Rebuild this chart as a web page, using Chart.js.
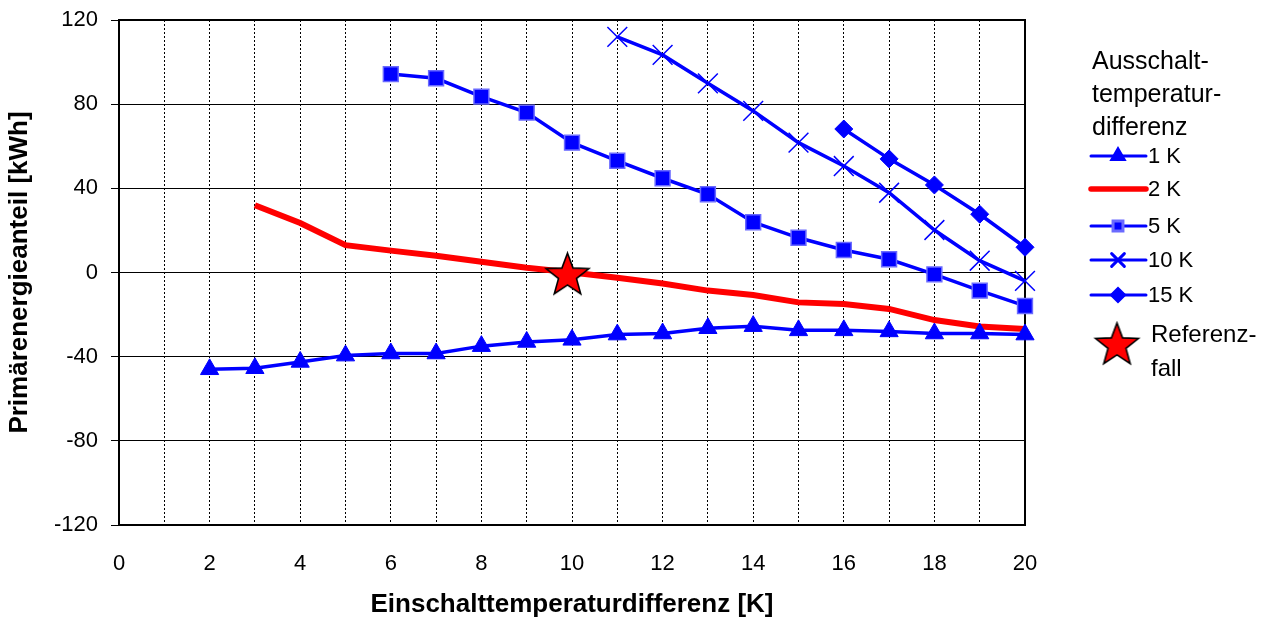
<!DOCTYPE html>
<html>
<head>
<meta charset="utf-8">
<script src="https://cdn.jsdelivr.net/npm/chart.js@4"></script>
<style>
  html, body { margin: 0; padding: 0; background: #fff; }
  canvas { display: block; }
</style>
</head>
<body>
<canvas id="chart" width="1265" height="619"></canvas>
<script>
////Data (x = Einschalttemperaturdifferenz [K], y = kWh)
const x1K = [2, 3, 4, 5, 6, 7, 8, 9, 10, 11, 12, 13, 14, 15, 16, 17, 18, 19, 20];
const y1K = [-46, -45.5, -42.5, -39.5, -38.5, -38.5, -35, -33, -32, -29.5, -29, -26.5, -25.5, -27.5, -27.5, -28, -29, -29, -29.5];

const x2K = [3, 4, 5, 6, 7, 8, 9, 10, 11, 12, 13, 14, 15, 16, 17, 18, 19, 20];
const y2K = [32, 23.5, 13, 10.4, 8, 5.1, 2.3, 0, -2.5, -5.2, -8.6, -10.7, -14.2, -15, -17.3, -22.6, -25.7, -26.9];

const x5K = [6, 7, 8, 9, 10, 11, 12, 13, 14, 15, 16, 17, 18, 19, 20];
const y5K = [94.3, 92.3, 83.6, 76, 61.7, 53.1, 44.8, 37.2, 23.9, 16.5, 10.7, 6.3, -0.9, -8.6, -15.9];

const x10K = [11, 12, 13, 14, 15, 16, 17, 18, 19, 20];
const y10K = [112, 103.4, 89.9, 76.8, 61.7, 50.6, 37.9, 20.2, 5.6, -4];

const x15K = [16, 17, 18, 19, 20];
const y15K = [68.2, 54, 41.6, 27.7, 12];

const xRef = [9.9];
const yRef = [-1.5];

const seriesLabels = ["1 K", "2 K", "5 K", "10 K", "15 K"];
const legendTitle = ["Ausschalt-", "temperatur-", "differenz"];
const refLabel = ["Referenz-", "fall"];

const BLUE = "#0000ff";
const RED = "#ff0000";
const FONT = "'Liberation Sans', Arial, sans-serif";

//turn two arrays into {x, y} points
function pts(xs, ys) {
    let out = [];
    for (let i = 0; i < xs.length; i++) {
        out.push({x: xs[i], y: ys[i]});
    }
    return out;
}

//filled red star with black outline, used as point style (centre of canvas = star centre)
function makeStar(r) {
    let c = document.createElement("canvas");
    let s = Math.ceil(r * 2 + 4);
    c.width = s; c.height = s;
    let g = c.getContext("2d");
    g.beginPath();
    for (let i = 0; i < 10; i++) {
        let rad = i % 2 === 0 ? r : r * 0.42;
        let a = -Math.PI / 2 + i * Math.PI / 5;
        let px = s / 2 + rad * Math.cos(a);
        let py = s / 2 + rad * Math.sin(a);
        if (i === 0) g.moveTo(px, py); else g.lineTo(px, py);
    }
    g.closePath();
    g.fillStyle = RED;
    g.fill();
    g.lineWidth = 1.6;
    g.strokeStyle = "#000";
    g.stroke();
    return c;
}
const starImg = makeStar(22.5);

Chart.defaults.font.family = FONT;
Chart.defaults.color = "#000";

//frame around the plot area
const framePlugin = {
    id: "frame",
    beforeDatasetsDraw(chart) {
        const {ctx, chartArea: a} = chart;
        ctx.save();
        ctx.strokeStyle = "#000";
        ctx.lineWidth = 2;
        ctx.strokeRect(a.left, a.top, a.right - a.left, a.bottom - a.top);
        ctx.restore();
    }
};

//legend on the right, drawn by hand
const legendPlugin = {
    id: "sideLegend",
    afterDraw(chart) {
        const ctx = chart.ctx;
        ctx.save();
        ctx.fillStyle = "#000";
        ctx.textBaseline = "middle";
        ctx.textAlign = "left";
        ctx.font = "25px " + FONT;
        const titleY = [62, 95, 128];
        legendTitle.forEach((t, i) => ctx.fillText(t, 1092, titleY[i]));

        ctx.font = "22px " + FONT;
        const itemY = [156, 189, 226, 260, 295];
        const markR = [7, 0, 7, 9, 6.5];
        const sets = chart.data.datasets.slice(0, 5);
        sets.forEach((ds, i) => {
            let y = itemY[i];
            ctx.strokeStyle = ds.borderColor;
            ctx.lineWidth = ds.borderWidth - 0.5;
            ctx.lineCap = "round";
            ctx.beginPath();
            ctx.moveTo(1091, y);
            ctx.lineTo(1146, y);
            ctx.stroke();
            if (ds.pointStyle && markR[i] > 0) {
                ctx.fillStyle = ds.pointBackgroundColor;
                ctx.strokeStyle = ds.pointBorderColor;
                Chart.helpers.drawPoint(ctx, {
                    pointStyle: ds.pointStyle,
                    radius: markR[i],
                    borderWidth: ds.pointBorderWidth,
                    rotation: 0
                }, 1118, y);
            }
            ctx.fillStyle = "#000";
            ctx.fillText(seriesLabels[i], 1148, y + 1);
        });

        ctx.drawImage(starImg, 1117 - starImg.width / 2, 345.5 - starImg.height / 2);
        ctx.font = "24px " + FONT;
        ctx.fillText(refLabel[0], 1151, 335);
        ctx.fillText(refLabel[1], 1151, 369);
        ctx.restore();
    }
};

const ctx = document.getElementById("chart").getContext("2d");
const chart = new Chart(ctx, {
    type: "line",
    data: {
        datasets: [
            {
                label: seriesLabels[0],
                data: pts(x1K, y1K),
                borderColor: BLUE, borderWidth: 3.5,
                pointStyle: "triangle", pointRadius: 10.5,
                pointBackgroundColor: BLUE, pointBorderColor: BLUE, pointBorderWidth: 1,
                order: 1
            },
            {
                label: seriesLabels[1],
                data: pts(x2K, y2K),
                borderColor: RED, borderWidth: 6,
                pointStyle: false, pointRadius: 0,
                order: 2
            },
            {
                label: seriesLabels[2],
                data: pts(x5K, y5K),
                borderColor: BLUE, borderWidth: 3.5,
                pointStyle: "rect", pointRadius: 10.5,
                pointBackgroundColor: BLUE, pointBorderColor: "#6a6aff", pointBorderWidth: 1.5,
                order: 3
            },
            {
                label: seriesLabels[3],
                data: pts(x10K, y10K),
                borderColor: BLUE, borderWidth: 3.5,
                pointStyle: "crossRot", pointRadius: 14,
                pointBackgroundColor: BLUE, pointBorderColor: BLUE, pointBorderWidth: 1.5,
                order: 4
            },
            {
                label: seriesLabels[4],
                data: pts(x15K, y15K),
                borderColor: BLUE, borderWidth: 3.5,
                pointStyle: "rectRot", pointRadius: 9,
                pointBackgroundColor: BLUE, pointBorderColor: BLUE, pointBorderWidth: 1,
                order: 5
            },
            {
                label: "Referenzfall",
                data: pts(xRef, yRef),
                showLine: false,
                pointStyle: starImg,
                order: 0
            }
        ]
    },
    options: {
        responsive: false,
        animation: false,
        clip: false,
        layout: {padding: {top: 20, right: 240, left: 0, bottom: 0}},
        plugins: {
            legend: {display: false},
            tooltip: {enabled: false}
        },
        elements: {line: {tension: 0}},
        scales: {
            x: {
                type: "linear",
                min: 0, max: 20,
                afterFit(scale) { scale.height = 94; },
                ticks: {
                    stepSize: 1,
                    autoSkip: false,
                    maxRotation: 0,
                    padding: 26,
                    font: {size: 22},
                    callback: (v) => (v % 2 === 0 ? String(v) : "")
                },
                grid: {color: "#000", lineWidth: 1, drawTicks: false},
                border: {color: "#000", width: 2, dash: [2, 2]},
                title: {
                    display: true,
                    text: "Einschalttemperaturdifferenz [K]",
                    font: {size: 26, weight: "bold", lineHeight: 1},
                    padding: {top: 0, bottom: 1}
                }
            },
            y: {
                min: -120, max: 120,
                afterFit(scale) { scale.width = 119; },
                ticks: {stepSize: 40, padding: 13, font: {size: 22, lineHeight: 0.5}},
                grid: {color: "#000", lineWidth: 1, tickLength: 8},
                border: {color: "#000", width: 2},
                title: {
                    display: true,
                    text: "Primärenergieanteil [kWh]",
                    font: {size: 26, weight: "bold", lineHeight: 1},
                    padding: {top: 7, bottom: 0}
                }
            }
        }
    },
    plugins: [framePlugin, legendPlugin]
});
</script>
</body>
</html>
